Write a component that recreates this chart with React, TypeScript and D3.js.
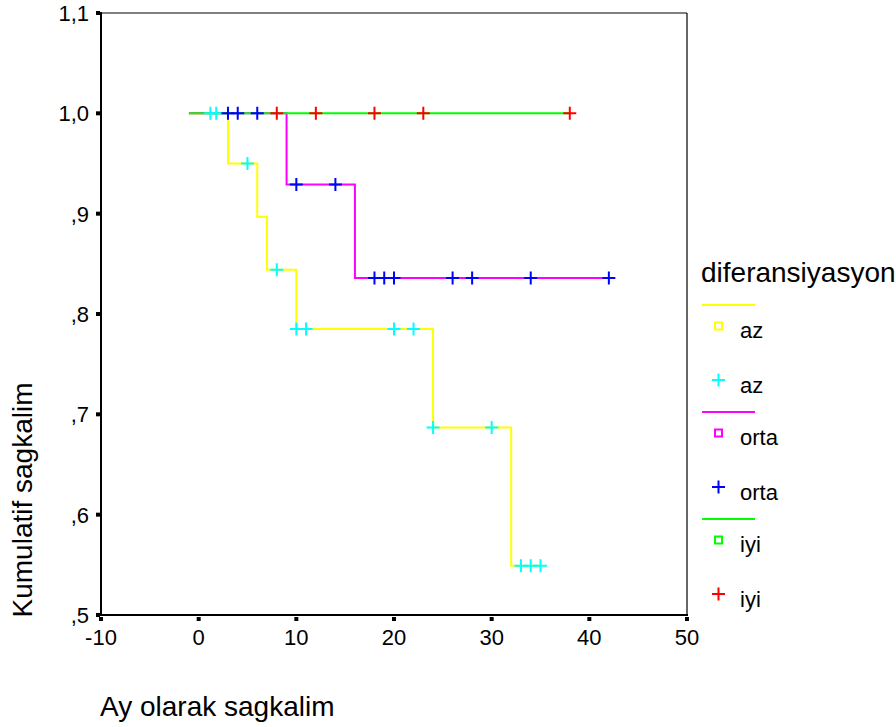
import React, { useEffect, useRef } from 'react';
import * as d3 from 'd3';

// ==== data

const xTicks = [-10, 0, 10, 20, 30, 40, 50];
const yTicks = [0.5, 0.6, 0.7, 0.8, 0.9, 1.0, 1.1];
const yTickLabels = [',5', ',6', ',7', ',8', ',9', '1,0', '1,1'];

// az
const azTimes = [-1, 3, 6, 7, 10, 24, 32, 35];
const azSurv = [1.0, 0.95, 0.897, 0.844, 0.785, 0.687, 0.549, 0.549];
const azCensored = [1.2, 1.8, 5, 8, 10, 11, 20, 22, 24, 30, 33, 34, 35];

// orta
const ortaTimes = [-1, 9, 16, 42];
const ortaSurv = [1.0, 0.929, 0.836, 0.836];
const ortaCensored = [3, 4, 6, 10, 14, 18, 19, 20, 26, 28, 34, 42];

// iyi
const iyiTimes = [-1, 38];
const iyiSurv = [1.0, 1.0];
const iyiCensored = [8, 12, 18, 23, 38];

const groups = [
    { name: 'az', times: azTimes, surv: azSurv, censored: azCensored, line: '#ffff00', mark: '#00ffff' },
    { name: 'orta', times: ortaTimes, surv: ortaSurv, censored: ortaCensored, line: '#ff00ff', mark: '#0000ff' },
    { name: 'iyi', times: iyiTimes, surv: iyiSurv, censored: iyiCensored, line: '#00ff00', mark: '#ff0000' }
];

// ====

const FONT = '"Liberation Sans", Arial, sans-serif';

const survAt = (times, surv, t) => {
    let v = surv[0];
    times.forEach((tt, i) => {
        if (tt <= t) v = surv[i];
    });
    return v;
};

const App = () => {
    const node = useRef(null);

    useEffect(() => {
        const svg = d3.select(node.current);
        svg.selectAll('*').remove();

        const left = 101, right = 687, top = 13, bottom = 615;
        const x = d3.scaleLinear().domain([-10, 50]).range([left, right]);
        const y = d3.scaleLinear().domain([0.5, 1.1]).range([bottom, top]);

        // frame
        svg.append('line').attr('x1', left).attr('x2', right).attr('y1', top).attr('y2', top)
            .attr('stroke', '#000').attr('stroke-width', 1.2);
        svg.append('line').attr('x1', right).attr('x2', right).attr('y1', top).attr('y2', bottom)
            .attr('stroke', '#000').attr('stroke-width', 1.2);
        svg.append('line').attr('x1', left).attr('x2', left).attr('y1', top - 1).attr('y2', bottom + 1)
            .attr('stroke', '#000').attr('stroke-width', 2);
        svg.append('line').attr('x1', left - 1).attr('x2', right + 1).attr('y1', bottom).attr('y2', bottom)
            .attr('stroke', '#000').attr('stroke-width', 2);

        // y ticks
        yTicks.forEach((v, i) => {
            svg.append('rect').attr('x', left - 5).attr('y', y(v) - 2).attr('width', 4).attr('height', 4).attr('fill', '#000');
            svg.append('text').attr('x', left - 12).attr('y', y(v) + 8)
                .attr('text-anchor', 'end').style('font-family', FONT).style('font-size', '22px')
                .text(yTickLabels[i]);
        });

        // x ticks
        xTicks.forEach((v) => {
            svg.append('rect').attr('x', x(v) - 2).attr('y', bottom + 2).attr('width', 4).attr('height', 4).attr('fill', '#000');
            svg.append('text').attr('x', x(v)).attr('y', bottom + 30)
                .attr('text-anchor', 'middle').style('font-family', FONT).style('font-size', '22px')
                .text(v);
        });

        // axis titles
        svg.append('text').attr('transform', `translate(32, ${500}) rotate(-90)`)
            .attr('text-anchor', 'middle').style('font-family', FONT).style('font-size', '28px')
            .text('Kumulatif sagkalim');
        svg.append('text').attr('x', 100).attr('y', 716)
            .style('font-family', FONT).style('font-size', '28px')
            .text('Ay olarak sagkalim');

        // survival steps
        const line = d3.line().x((d) => x(d[0])).y((d) => y(d[1])).curve(d3.curveStepAfter);
        groups.forEach((g) => {
            svg.append('path')
                .attr('d', line(g.times.map((t, i) => [t, g.surv[i]])))
                .attr('fill', 'none').attr('stroke', g.line).attr('stroke-width', 2);
        });

        // censored marks
        const half = 6.5;
        groups.forEach((g) => {
            g.censored.forEach((t) => {
                const cx = x(t), cy = y(survAt(g.times, g.surv, t));
                svg.append('path')
                    .attr('d', `M${cx - half},${cy}H${cx + half}M${cx},${cy - half}V${cy + half}`)
                    .attr('stroke', g.mark).attr('stroke-width', 2).attr('fill', 'none');
            });
        });

        // legend
        svg.append('text').attr('x', 701).attr('y', 282)
            .style('font-family', FONT).style('font-size', '28px')
            .text('diferansiyasyon');

        groups.forEach((g, i) => {
            const base = 305 + i * 107;
            svg.append('line').attr('x1', 702).attr('x2', 755).attr('y1', base).attr('y2', base)
                .attr('stroke', g.line).attr('stroke-width', 2);
            svg.append('rect').attr('x', 715).attr('y', base + 17.5).attr('width', 7).attr('height', 7)
                .attr('fill', 'none').attr('stroke', g.line).attr('stroke-width', 2);
            svg.append('text').attr('x', 740).attr('y', base + 33)
                .style('font-family', FONT).style('font-size', '22px').text(g.name);
            const my = base + 75;
            svg.append('path')
                .attr('d', `M${718.5 - half},${my}H${718.5 + half}M${718.5},${my - half}V${my + half}`)
                .attr('stroke', g.mark).attr('stroke-width', 2).attr('fill', 'none');
            svg.append('text').attr('x', 740).attr('y', base + 88)
                .style('font-family', FONT).style('font-size', '22px').text(g.name);
        });
    }, []);

    return (
        <svg
            ref={node}
            width={896}
            height={727}
            style={{ position: 'absolute', left: 0, top: 0, background: '#fff' }}>
        </svg>
    );
};

export default App;
